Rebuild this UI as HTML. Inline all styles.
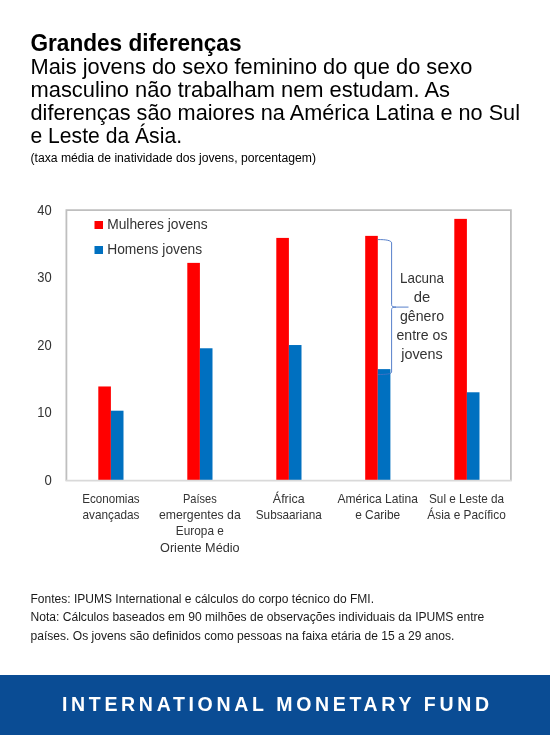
<!DOCTYPE html>
<html><head><meta charset="utf-8"><title>Grandes diferenças</title>
<style>
html,body{margin:0;padding:0;background:#fff;width:550px;height:735px;overflow:hidden}
svg{display:block;font-family:"Liberation Sans",sans-serif;will-change:transform}
</style></head><body>
<svg width="550" height="735" viewBox="0 0 550 735">
<rect x="0" y="0" width="550" height="735" fill="#FFFFFF"/>
<text x="30.5" y="50.8" font-size="23.5" font-weight="bold" fill="#000" text-anchor="start" textLength="211" lengthAdjust="spacingAndGlyphs">Grandes diferenças</text>
<text x="30.5" y="74.0" font-size="22.5" font-weight="normal" fill="#000" text-anchor="start" textLength="442" lengthAdjust="spacingAndGlyphs">Mais jovens do sexo feminino do que do sexo</text>
<text x="30.5" y="97.0" font-size="22.5" font-weight="normal" fill="#000" text-anchor="start" textLength="419.5" lengthAdjust="spacingAndGlyphs">masculino não trabalham nem estudam. As</text>
<text x="30.5" y="120.0" font-size="22.5" font-weight="normal" fill="#000" text-anchor="start" textLength="489.5" lengthAdjust="spacingAndGlyphs">diferenças são maiores na América Latina e no Sul</text>
<text x="30.5" y="143.0" font-size="22.5" font-weight="normal" fill="#000" text-anchor="start" textLength="151.5" lengthAdjust="spacingAndGlyphs">e Leste da Ásia.</text>
<text x="30.5" y="161.9" font-size="12" font-weight="normal" fill="#000" text-anchor="start" textLength="285.5" lengthAdjust="spacingAndGlyphs">(taxa média de inatividade dos jovens, porcentagem)</text>
<path d="M66.4 480.7 L66.4 210.1 L510.9 210.1 L510.9 480.7" fill="none" stroke="#BFBFBF" stroke-width="1.8"/>
<text x="44.5" y="485.2" font-size="14.2" font-weight="normal" fill="#333333" text-anchor="start" textLength="7.3" lengthAdjust="spacingAndGlyphs">0</text>
<text x="37.3" y="417.4" font-size="14.2" font-weight="normal" fill="#333333" text-anchor="start" textLength="14.4" lengthAdjust="spacingAndGlyphs">10</text>
<text x="37.3" y="349.9" font-size="14.2" font-weight="normal" fill="#333333" text-anchor="start" textLength="14.4" lengthAdjust="spacingAndGlyphs">20</text>
<text x="37.3" y="282.1" font-size="14.2" font-weight="normal" fill="#333333" text-anchor="start" textLength="14.4" lengthAdjust="spacingAndGlyphs">30</text>
<text x="37.3" y="215.1" font-size="14.2" font-weight="normal" fill="#333333" text-anchor="start" textLength="14.4" lengthAdjust="spacingAndGlyphs">40</text>
<rect x="98.30" y="386.47" width="12.6" height="94.03" fill="#FF0000"/>
<rect x="110.90" y="410.70" width="12.6" height="69.80" fill="#0070C0"/>
<rect x="187.30" y="262.88" width="12.6" height="217.62" fill="#FF0000"/>
<rect x="199.90" y="348.27" width="12.6" height="132.23" fill="#0070C0"/>
<rect x="276.30" y="237.91" width="12.6" height="242.59" fill="#FF0000"/>
<rect x="288.90" y="345.03" width="12.6" height="135.47" fill="#0070C0"/>
<rect x="365.20" y="235.88" width="12.6" height="244.62" fill="#FF0000"/>
<rect x="377.80" y="369.12" width="12.6" height="111.38" fill="#0070C0"/>
<rect x="454.30" y="218.87" width="12.6" height="261.63" fill="#FF0000"/>
<rect x="466.90" y="392.28" width="12.6" height="88.22" fill="#0070C0"/>
<line x1="65.5" y1="480.7" x2="511.8" y2="480.7" stroke="#D9D9D9" stroke-width="1.8"/>
<rect x="94.5" y="221" width="8.5" height="8" fill="#FF0000"/>
<rect x="94.5" y="246" width="8.5" height="8" fill="#0070C0"/>
<text x="107.2" y="229.2" font-size="14.2" font-weight="normal" fill="#333333" text-anchor="start" textLength="100.5" lengthAdjust="spacingAndGlyphs">Mulheres jovens</text>
<text x="107.2" y="253.6" font-size="14.2" font-weight="normal" fill="#333333" text-anchor="start" textLength="95" lengthAdjust="spacingAndGlyphs">Homens jovens</text>
<text x="110.95" y="502.6" font-size="12.6" font-weight="normal" fill="#333333" text-anchor="middle" textLength="57.5" lengthAdjust="spacingAndGlyphs">Economias</text>
<text x="110.95" y="519.0" font-size="12.6" font-weight="normal" fill="#333333" text-anchor="middle" textLength="57" lengthAdjust="spacingAndGlyphs">avançadas</text>
<text x="199.85" y="502.6" font-size="12.6" font-weight="normal" fill="#333333" text-anchor="middle" textLength="33.8" lengthAdjust="spacingAndGlyphs">Países</text>
<text x="199.85" y="519.0" font-size="12.6" font-weight="normal" fill="#333333" text-anchor="middle" textLength="81.8" lengthAdjust="spacingAndGlyphs">emergentes da</text>
<text x="199.85" y="535.4" font-size="12.6" font-weight="normal" fill="#333333" text-anchor="middle" textLength="48" lengthAdjust="spacingAndGlyphs">Europa e</text>
<text x="199.85" y="551.8000000000001" font-size="12.6" font-weight="normal" fill="#333333" text-anchor="middle" textLength="79.6" lengthAdjust="spacingAndGlyphs">Oriente Médio</text>
<text x="288.75" y="502.6" font-size="12.6" font-weight="normal" fill="#333333" text-anchor="middle" textLength="31.8" lengthAdjust="spacingAndGlyphs">África</text>
<text x="288.75" y="519.0" font-size="12.6" font-weight="normal" fill="#333333" text-anchor="middle" textLength="66" lengthAdjust="spacingAndGlyphs">Subsaariana</text>
<text x="377.65" y="502.6" font-size="12.6" font-weight="normal" fill="#333333" text-anchor="middle" textLength="80.5" lengthAdjust="spacingAndGlyphs">América Latina</text>
<text x="377.65" y="519.0" font-size="12.6" font-weight="normal" fill="#333333" text-anchor="middle" textLength="45" lengthAdjust="spacingAndGlyphs">e Caribe</text>
<text x="466.55" y="502.6" font-size="12.6" font-weight="normal" fill="#333333" text-anchor="middle" textLength="75" lengthAdjust="spacingAndGlyphs">Sul e Leste da</text>
<text x="466.55" y="519.0" font-size="12.6" font-weight="normal" fill="#333333" text-anchor="middle" textLength="78.5" lengthAdjust="spacingAndGlyphs">Ásia e Pacífico</text>
<text x="422" y="283.3" font-size="14.5" font-weight="normal" fill="#333333" text-anchor="middle" textLength="44" lengthAdjust="spacingAndGlyphs">Lacuna</text>
<text x="422" y="302.1" font-size="14.5" font-weight="normal" fill="#333333" text-anchor="middle" textLength="16.5" lengthAdjust="spacingAndGlyphs">de</text>
<text x="422" y="320.90000000000003" font-size="14.5" font-weight="normal" fill="#333333" text-anchor="middle" textLength="44" lengthAdjust="spacingAndGlyphs">gênero</text>
<text x="422" y="339.70000000000005" font-size="14.5" font-weight="normal" fill="#333333" text-anchor="middle" textLength="51" lengthAdjust="spacingAndGlyphs">entre os</text>
<text x="422" y="358.5" font-size="14.5" font-weight="normal" fill="#333333" text-anchor="middle" textLength="41.5" lengthAdjust="spacingAndGlyphs">jovens</text>
<path d="M377.7 239.6 C386 239.4 391.6 240.5 391.6 243 L391.6 304.5 C391.6 306.6 393 307.1 396 307.1 L408.5 307.1 M396 307.1 C393 307.1 391.6 307.6 391.6 309.5 L391.6 372 C391.6 374 386 374.5 377.7 374.5" fill="none" stroke="#4472C4" stroke-width="0.9"/>
<text x="30.5" y="602.7" font-size="12" font-weight="normal" fill="#1a1a1a" text-anchor="start" textLength="343.5" lengthAdjust="spacingAndGlyphs">Fontes: IPUMS International e cálculos do corpo técnico do FMI.</text>
<text x="30.5" y="621.4" font-size="12" font-weight="normal" fill="#1a1a1a" text-anchor="start" textLength="453.8" lengthAdjust="spacingAndGlyphs">Nota: Cálculos baseados em 90 milhões de observações individuais da IPUMS entre</text>
<text x="30.5" y="640.0" font-size="12" font-weight="normal" fill="#1a1a1a" text-anchor="start" textLength="423.8" lengthAdjust="spacingAndGlyphs">países. Os jovens são definidos como pessoas na faixa etária de 15 a 29 anos.</text>
<rect x="0" y="675" width="550" height="60" fill="#0A4C94"/>
<text x="62" y="711.2" font-size="19.5" font-weight="bold" fill="#FFFFFF" textLength="427" lengthAdjust="spacing">INTERNATIONAL MONETARY FUND</text>
</svg>
</body></html>
